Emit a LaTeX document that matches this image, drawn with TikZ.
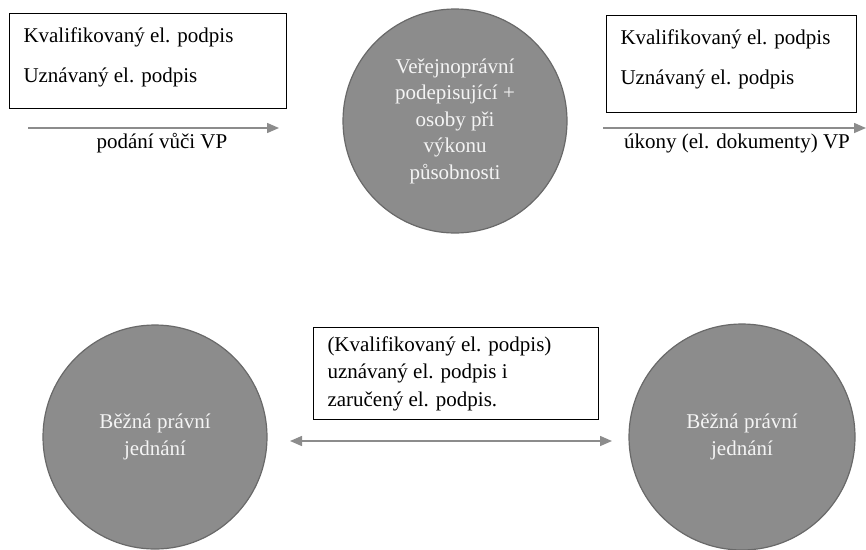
\documentclass[tikz,border=0pt]{standalone}
\usepackage{fontspec}
\setmainfont{Liberation Serif}
\usetikzlibrary{arrows.meta}

\definecolor{discgray}{RGB}{140,140,140}
\definecolor{discedge}{RGB}{105,105,105}
\definecolor{arrowgray}{RGB}{140,140,140}
\definecolor{disctext}{RGB}{244,244,244}

\newcommand{\boxlines}[3]{\parbox[t][#2][t]{#1}{#3}}

\tikzstyle{party}=[circle,
                   line width=1.2pt,
                   draw=discedge,
                   fill=discgray,
                   text=disctext,
                   align=center,
                   inner sep=0pt,
                   font=\fontsize{21}{26.5}\selectfont]
\tikzstyle{sigbox}=[rectangle,
                    line width=1pt,
                    draw=black,
                    fill=white,
                    anchor=north west,
                    inner xsep=14pt,
                    inner ysep=14pt,
                    font=\fontsize{21}{27.5}\selectfont]
\tikzstyle{flow}=[line width=1.5pt,
                  arrowgray]
\tikzstyle{flowlabel}=[anchor=base,
                       inner sep=0pt,
                       font=\fontsize{21}{25}\selectfont]

\begin{document}
\begin{tikzpicture}[x=1pt,y=-1pt,>={Triangle[length=12pt,width=10pt]}]
  \useasboundingbox (0,0) rectangle (866,549);

  % the parties
  \node (vp) [party, minimum size=224pt] at (455,121)
        {Veřejnoprávní\\podepisující +\\osoby při\\výkonu\\působnosti};
  \node (left) [party, minimum size=224pt] at (155,437) {Běžná právní\\jednání};
  \node (right) [party, minimum size=226pt] at (742,437) {Běžná právní\\jednání};

  % the signatures in use
  \node (sigin) [sigbox] at (9,13)
        {\boxlines{249pt}{67pt}{Kvalifikovaný el. podpis\\[13pt]Uznávaný el. podpis}};
  \node (sigout) [sigbox] at (606,15)
        {\boxlines{222pt}{69pt}{Kvalifikovaný el. podpis\\[13pt]Uznávaný el. podpis}};
  \node (sigmutual) [sigbox, inner ysep=9pt] at (313,327)
        {\boxlines{257pt}{74pt}{(Kvalifikovaný el. podpis)\\uznávaný el. podpis i\\zaručený el. podpis.}};

  \coordinate (in1) at (28,128);
  \coordinate (in2) at (279,128);
  \coordinate (out1) at (603,128);
  \coordinate (out2) at (866,128);
  \coordinate (mutual1) at (290,441);
  \coordinate (mutual2) at (612,441);

  \node (inlabel) [flowlabel] at (162,148) {podání vůči VP};
  \node (outlabel) [flowlabel] at (737,148) {úkony (el. dokumenty) VP};

  % arrows between the parties
  \path[flow]
      (in1) edge[->] (in2)
      (out1) edge[->] (out2)
      (mutual1) edge[<->] (mutual2)
;

\end{tikzpicture}
\end{document}
